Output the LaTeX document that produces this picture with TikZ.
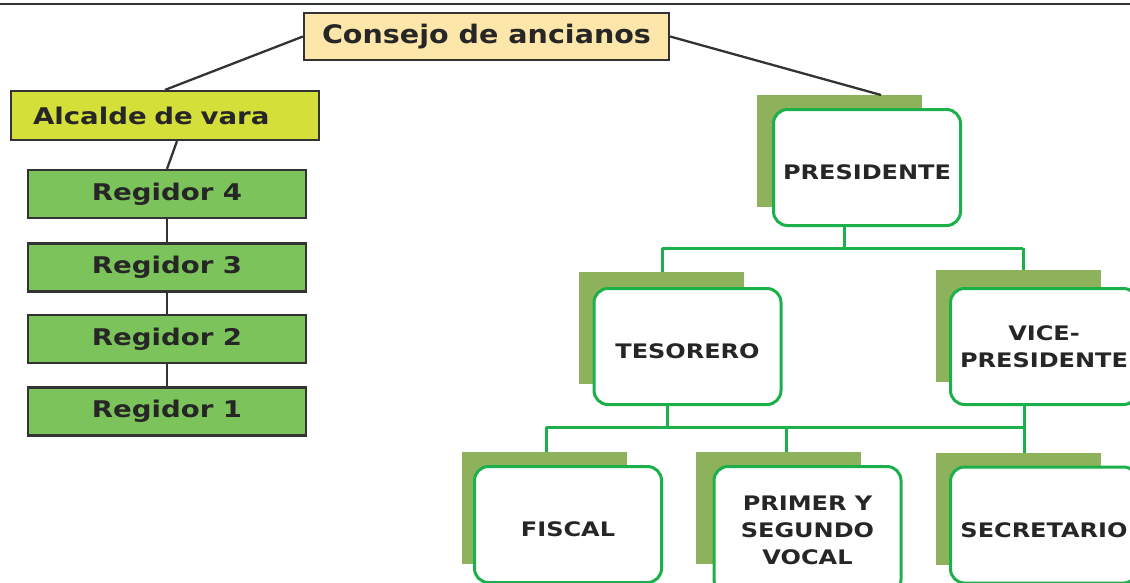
\documentclass[tikz,border=0pt]{standalone}
\usepackage{fontspec}
\setmainfont{DejaVu Sans}
\newfontfamily\capsfont{DejaVu Sans}[FakeStretch=1.2]
\newfontfamily\consfont{DejaVu Sans}[FakeStretch=1.12]
\newfontfamily\lowfont{DejaVu Sans}[FakeStretch=1.2]
\usetikzlibrary{calc,backgrounds}
\definecolor{consfill}{HTML}{FDE6A9}
\definecolor{alcfill}{HTML}{D4DF39}
\definecolor{regfill}{HTML}{7DC35B}
\definecolor{darkline}{HTML}{333333}
\definecolor{shadowgreen}{HTML}{8DB25B}
\definecolor{boxgreen}{HTML}{1CB04B}
\definecolor{txt}{HTML}{262626}
\begin{document}
\begin{tikzpicture}[x=1pt,y=-1pt,
  darkbox/.style={draw=darkline, line width=2.2pt, rectangle, inner sep=0pt, text=txt},
  consbox/.style={darkbox, fill=consfill, minimum width=365pt, minimum height=47pt, font=\consfont\bfseries\fontsize{25.5}{30}\selectfont},
  alcbox/.style={darkbox, fill=alcfill, minimum width=308pt, minimum height=49pt, inner xsep=22pt, text width=264pt, align=left, font=\lowfont\bfseries\fontsize{23}{28}\selectfont},
  regbox/.style={darkbox, fill=regfill, minimum width=278pt, minimum height=48pt, font=\lowfont\bfseries\fontsize{23}{28}\selectfont},
  roundbox/.style={draw=boxgreen, line width=3pt, fill=white, rounded corners=14pt, minimum width=187pt, minimum height=116pt, inner sep=0pt, align=center, text=txt, font=\capsfont\bfseries\fontsize{20}{27}\selectfont},
  onebox/.style={roundbox, text height=24pt, text depth=0pt},
  shadowbox/.style={fill=shadowgreen, minimum width=165pt, minimum height=112pt, inner sep=0pt, anchor=north west},
  gline/.style={draw=boxgreen, line width=3pt},
  kline/.style={draw=darkline, line width=2.3pt}]
\useasboundingbox (0,0) rectangle (1130,582);
\clip (0,0) rectangle (1130,582);
\draw[draw=darkline, line width=1.5pt] (0,4) -- (1130,4);

% left hierarchy
\node[consbox] (cons) at (486.5,36.5) {Consejo de ancianos};
\node[alcbox] (alc) at (165,115.5) {Alcalde de vara};
\node[regbox] (reg4) at (167,194) {Regidor 4};
\node[regbox] (reg3) at (167,267.5) {Regidor 3};
\node[regbox] (reg2) at (167,339) {Regidor 2};
\node[regbox] (reg1) at (167,411.5) {Regidor 1};

% right hierarchy
\node[onebox] (pres) at (867,167.5) {PRESIDENTE};
\node[onebox] (tes) at (687.5,346.5) {TESORERO};
\node[roundbox] (vice) at (1044,346.5) {VICE-\\PRESIDENTE};
\node[onebox] (fis) at (568,524.5) {FISCAL};
\node[roundbox, minimum height=127pt] (pri) at (807.5,530) {PRIMER Y\\SEGUNDO\\VOCAL};
\node[onebox] (sec) at (1044,525) {SECRETARIO};

\begin{scope}[on background layer]
\node[shadowbox] (presS) at ($(pres.north west)+(-15,-13)$) {};
\node[shadowbox] (tesS) at ($(tes.north west)+(-14,-15)$) {};
\node[shadowbox] (viceS) at ($(vice.north west)+(-13,-17)$) {};
\node[shadowbox] (fisS) at ($(fis.north west)+(-11,-13)$) {};
\node[shadowbox] (priS) at ($(pri.north west)+(-17,-13)$) {};
\node[shadowbox] (secS) at ($(sec.north west)+(-13,-13)$) {};
\end{scope}

% dark connectors
\draw[kline] (cons.west) -- (alc.north);
\draw[kline] (cons.east) -- ($(presS.north west)!0.75!(presS.north east)$);
\draw[kline] ($(alc.south)+(12,0)$) -- (reg4.north);
\draw[kline] (reg4) -- (reg3);
\draw[kline] (reg3) -- (reg2);
\draw[kline] (reg2) -- (reg1);

% green connectors
\coordinate (tL) at (662,248);
\coordinate (tP) at (844,248);
\coordinate (tR) at (1023,248);
\draw[gline] (tL) -- (tR);
\draw[gline] (tP) -- (pres.south -| tP);
\draw[gline] (tL) -- (tesS.north -| tL);
\draw[gline] (tR) -- (viceS.north -| tR);

\coordinate (bL) at (546,427);
\coordinate (bT) at (667,427);
\coordinate (bP) at (786,427);
\coordinate (bR) at (1024,427);
\draw[gline] (bL) -- (bR);
\draw[gline] (bL) -- (fisS.north -| bL);
\draw[gline] (bT) -- (tes.south -| bT);
\draw[gline] (bP) -- (priS.north -| bP);
\draw[gline] (bR) -- (vice.south -| bR);
\draw[gline] (bR) -- (secS.north -| bR);
\end{tikzpicture}
\end{document}
